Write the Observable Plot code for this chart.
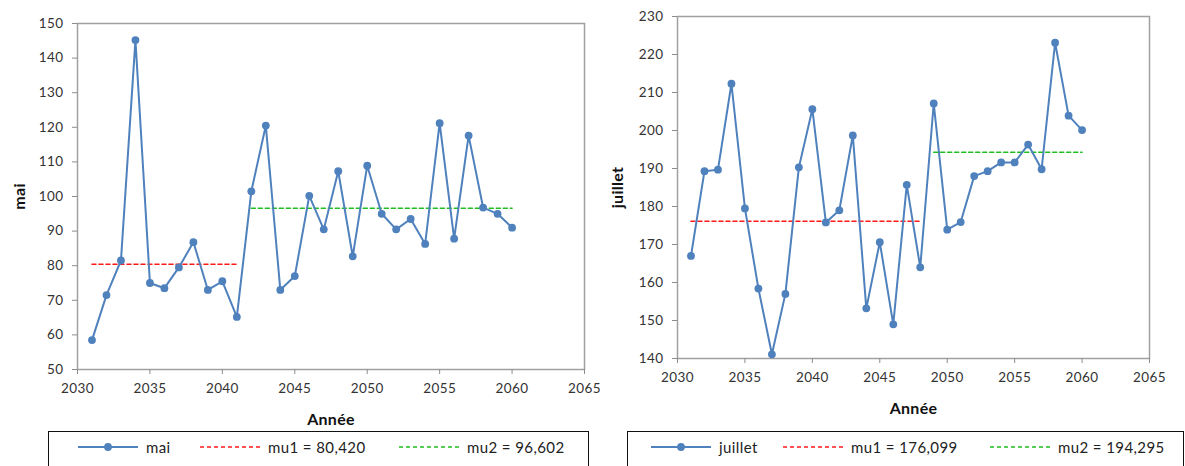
<!DOCTYPE html>
<html>
<head>
<meta charset="utf-8">
<script src="https://cdn.jsdelivr.net/npm/d3@7"></script>
<script src="https://cdn.jsdelivr.net/npm/@observablehq/plot@0.6"></script>
<style>
  html, body { margin: 0; padding: 0; background: #fff; }
  #wrap { position: relative; width: 1185px; height: 466px; overflow: hidden; font-family: Lato, "Open Sans", sans-serif; }
  .chart { position: absolute; top: 0; }
  .legend { position: absolute; box-sizing: border-box; border: 1.5px solid #111; height: 50px; background: #fff; }
  .item { position: absolute; top: 6px; display: flex; align-items: center; font-size: 15px; color: #222; letter-spacing: 0.4px; white-space: nowrap; }
  .item svg { margin-right: 7px; }
</style>
</head>
<body>
<div id="wrap"></div>
<script>
// ---- Data ----
const years = [2031,2032,2033,2034,2035,2036,2037,2038,2039,2040,2041,2042,2043,2044,2045,
               2046,2047,2048,2049,2050,2051,2052,2053,2054,2055,2056,2057,2058,2059,2060];
const mai = [58.5,71.5,81.5,145.2,75.0,73.5,79.5,86.8,73.0,75.5,65.2,101.5,120.5,73.0,77.0,
             100.2,90.5,107.3,82.7,108.9,95.0,90.5,93.5,86.3,121.2,87.8,117.6,96.8,95.0,91.0];
const juillet = [167.0,189.3,189.7,212.3,179.5,158.4,141.1,157.0,190.3,205.6,175.8,179.0,198.7,153.2,170.6,
                 149.0,185.7,164.0,207.1,173.9,175.9,188.0,189.3,191.6,191.6,196.3,189.8,223.1,203.9,200.1];
const maiMu = [80.420, 96.602];
const maiMuSpans = [[2031, 2041], [2042, 2060]];
const juilletMu = [176.099, 194.295];
const juilletMuSpans = [[2031, 2048], [2049, 2060]];
const xTicks = [2030,2035,2040,2045,2050,2055,2060,2065];
const maiTicks = [50,60,70,80,90,100,110,120,130,140,150];
const juilletTicks = [140,150,160,170,180,190,200,210,220,230];

const BLUE = "#4f81bd", RED = "#ff1a1a", GREEN = "#1fbf1f";
const fmt = v => v.toFixed(3).replace(".", ",");

function makeChart(cfg) {
  const series = years.map((y, i) => ({year: y, value: cfg.values[i]}));
  const mu1 = cfg.spans[0].map(x => ({year: x, value: cfg.mu[0]}));
  const mu2 = cfg.spans[1].map(x => ({year: x, value: cfg.mu[1]}));
  const svg = Plot.plot({
    width: cfg.width, height: 430,
    marginLeft: 77, marginRight: cfg.marginRight, marginTop: cfg.marginTop, marginBottom: cfg.marginBottom,
    style: {fontFamily: "Lato, 'Open Sans', sans-serif", fontSize: "13.5px", color: "#333", background: "#fff"},
    x: {domain: [2030, 2065]},
    y: {domain: cfg.domain},
    marks: [
      Plot.frame({stroke: "#a0a0a0", strokeWidth: 1.5}),
      Plot.axisX({ticks: xTicks, tickFormat: d => String(d), tickSize: 5, tickPadding: 9,
        stroke: "#8c8c8c", fill: "#333", fontSize: 13.5,
        label: "Année", labelAnchor: "center", labelArrow: "none", labelOffset: cfg.xLabelOffset}),
      Plot.axisY({ticks: cfg.ticks, tickSize: 5, tickPadding: 9,
        stroke: "#8c8c8c", fill: "#333", fontSize: 13.5,
        label: cfg.name, labelAnchor: "center", labelArrow: "none", labelOffset: cfg.yLabelOffset}),
      Plot.line(mu1, {x: "year", y: "value", stroke: RED, strokeWidth: 1.6, strokeDasharray: "4,3"}),
      Plot.line(mu2, {x: "year", y: "value", stroke: GREEN, strokeWidth: 1.6, strokeDasharray: "4,3"}),
      Plot.line(series, {x: "year", y: "value", stroke: BLUE, strokeWidth: 2}),
      Plot.dot(series, {x: "year", y: "value", r: 3.9, fill: BLUE, stroke: "none"})
    ]
  });
  const s = d3.select(svg);
  s.selectAll('g[aria-label="x-axis label"] text, g[aria-label="y-axis label"] text')
    .attr("font-weight", "bold").attr("font-size", 16).attr("fill", "#111").style("letter-spacing", "0.3px");
  s.selectAll('g[aria-label="x-axis tick label"] text, g[aria-label="y-axis tick label"] text')
    .style("letter-spacing", "0.4px");
  return svg;
}

function sample(kind) {
  const ns = "http://www.w3.org/2000/svg";
  const s = document.createElementNS(ns, "svg");
  s.setAttribute("width", 62); s.setAttribute("height", 12);
  const l = document.createElementNS(ns, "line");
  l.setAttribute("x1", 1); l.setAttribute("x2", 61); l.setAttribute("y1", 6); l.setAttribute("y2", 6);
  if (kind === "series") {
    l.setAttribute("stroke", BLUE); l.setAttribute("stroke-width", 2);
    s.appendChild(l);
    const c = document.createElementNS(ns, "circle");
    c.setAttribute("cx", 31); c.setAttribute("cy", 6); c.setAttribute("r", 3.9); c.setAttribute("fill", BLUE);
    s.appendChild(c);
  } else {
    l.setAttribute("stroke", kind === "mu1" ? RED : GREEN);
    l.setAttribute("stroke-width", 1.6); l.setAttribute("stroke-dasharray", "4,3");
    s.appendChild(l);
  }
  return s;
}

function makeLegend(left, width, items) {
  const box = document.createElement("div");
  box.className = "legend";
  box.style.left = left + "px"; box.style.top = "431px"; box.style.width = width + "px";
  for (const it of items) {
    const d = document.createElement("div");
    d.className = "item";
    d.style.left = it.x + "px";
    d.appendChild(sample(it.kind));
    const t = document.createElement("span");
    t.textContent = it.text;
    d.appendChild(t);
    box.appendChild(d);
  }
  return box;
}

const wrap = document.getElementById("wrap");

const c1 = makeChart({name: "mai", values: mai, mu: maiMu, spans: maiMuSpans, domain: [50, 150], ticks: maiTicks,
  width: 600, marginRight: 16, marginTop: 23, marginBottom: 61, xLabelOffset: 55, yLabelOffset: 64});
c1.classList.add("chart"); c1.style.left = "0px";
wrap.appendChild(c1);

const c2 = makeChart({name: "juillet", values: juillet, mu: juilletMu, spans: juilletMuSpans, domain: [140, 230], ticks: juilletTicks,
  width: 585, marginRight: 36, marginTop: 16, marginBottom: 72, xLabelOffset: 55, yLabelOffset: 66});
c2.classList.add("chart"); c2.style.left = "600px";
wrap.appendChild(c2);

wrap.appendChild(makeLegend(48, 541, [
  {x: 28, kind: "series", text: "mai"},
  {x: 150, kind: "mu1", text: "mu1 = " + fmt(maiMu[0])},
  {x: 349, kind: "mu2", text: "mu2 = " + fmt(maiMu[1])}
]));
wrap.appendChild(makeLegend(627, 557, [
  {x: 22, kind: "series", text: "juillet"},
  {x: 154, kind: "mu1", text: "mu1 = " + fmt(juilletMu[0])},
  {x: 361, kind: "mu2", text: "mu2 = " + fmt(juilletMu[1])}
]));
</script>
</body>
</html>
